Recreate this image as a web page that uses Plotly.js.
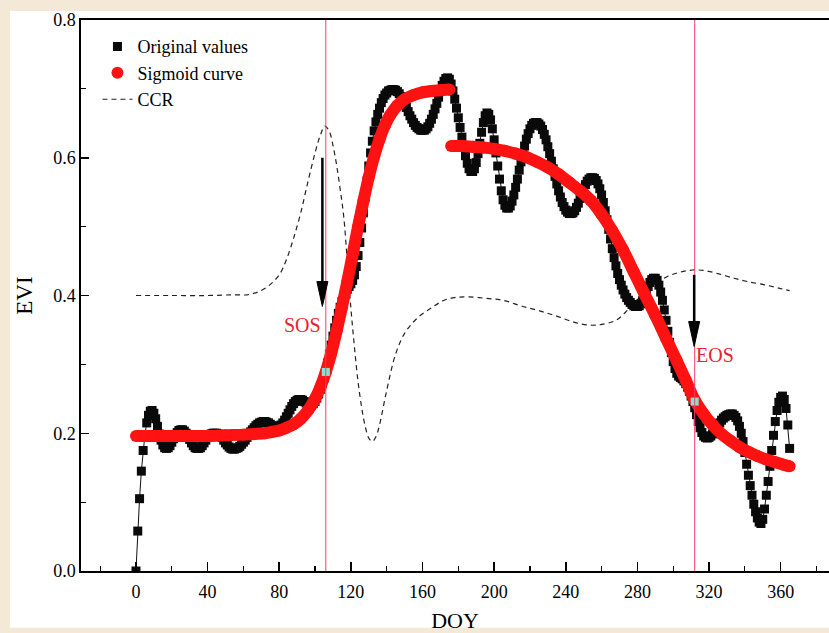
<!DOCTYPE html>
<html><head><meta charset="utf-8">
<script src="https://cdn.plot.ly/plotly-3.0.1.min.js"></script>
<style>html,body{margin:0;padding:0;background:#f3e9d6;}#chart{width:829px;height:633px;}</style>
</head><body><div id="chart"></div>
<script>
// Original EVI values, one per day starting at DOY 0
const startDoy = 0;
const origEvi = [
0.000,0.058,0.105,0.145,0.175,0.198,0.215,0.226,0.232,0.233,
0.229,0.221,0.210,0.199,0.190,0.183,0.179,0.178,0.179,0.182,
0.187,0.192,0.197,0.201,0.204,0.205,0.205,0.203,0.200,0.196,
0.191,0.186,0.182,0.179,0.178,0.178,0.179,0.182,0.186,0.190,
0.194,0.197,0.199,0.200,0.200,0.200,0.199,0.197,0.194,0.190,
0.186,0.183,0.180,0.178,0.177,0.177,0.178,0.179,0.181,0.184,
0.187,0.190,0.194,0.198,0.202,0.205,0.208,0.211,0.213,0.215,
0.216,0.217,0.217,0.216,0.215,0.213,0.211,0.210,0.209,0.209,
0.210,0.212,0.215,0.219,0.224,0.229,0.234,0.239,0.243,0.246,
0.248,0.249,0.249,0.248,0.246,0.244,0.242,0.241,0.241,0.243,
0.246,0.251,0.257,0.264,0.272,0.280,0.289,0.302,0.315,0.328,
0.341,0.353,0.364,0.374,0.383,0.391,0.398,0.404,0.409,0.413,
0.417,0.422,0.430,0.442,0.458,0.477,0.498,0.520,0.543,0.566,
0.588,0.607,0.624,0.639,0.652,0.663,0.672,0.680,0.686,0.691,
0.694,0.697,0.698,0.699,0.699,0.698,0.696,0.693,0.689,0.684,
0.679,0.673,0.667,0.661,0.656,0.651,0.647,0.644,0.642,0.640,
0.640,0.640,0.642,0.645,0.650,0.656,0.663,0.671,0.679,0.688,
0.697,0.705,0.711,0.715,0.716,0.714,0.707,0.697,0.685,0.672,
0.658,0.644,0.630,0.616,0.603,0.592,0.584,0.580,0.580,0.584,
0.593,0.606,0.621,0.637,0.651,0.661,0.665,0.663,0.655,0.642,
0.626,0.607,0.588,0.569,0.552,0.539,0.531,0.527,0.527,0.530,
0.537,0.546,0.557,0.569,0.582,0.594,0.606,0.617,0.627,0.635,
0.642,0.647,0.650,0.651,0.651,0.649,0.646,0.641,0.634,0.626,
0.616,0.606,0.595,0.584,0.573,0.562,0.552,0.543,0.535,0.529,
0.524,0.521,0.519,0.519,0.520,0.523,0.528,0.534,0.541,0.548,
0.555,0.561,0.566,0.569,0.571,0.571,0.570,0.567,0.562,0.555,
0.546,0.535,0.523,0.510,0.496,0.482,0.468,0.455,0.443,0.432,
0.423,0.415,0.408,0.402,0.397,0.393,0.390,0.387,0.385,0.384,
0.384,0.385,0.388,0.393,0.399,0.406,0.413,0.419,0.423,0.425,
0.425,0.422,0.415,0.405,0.393,0.379,0.364,0.348,0.332,0.317,
0.304,0.294,0.287,0.283,0.281,0.279,0.276,0.272,0.267,0.261,
0.254,0.246,0.237,0.227,0.217,0.208,0.201,0.196,0.194,0.193,
0.194,0.196,0.199,0.203,0.207,0.211,0.215,0.219,0.222,0.224,
0.226,0.227,0.228,0.228,0.226,0.223,0.218,0.210,0.200,0.188,
0.172,0.155,0.139,0.124,0.110,0.097,0.086,0.077,0.071,0.069,
0.075,0.090,0.110,0.130,0.152,0.175,0.197,0.217,0.233,0.245,
0.252,0.254,0.249,0.236,0.212,0.178
];
const origDoy = origEvi.map((_, i) => startDoy + i);

// Sigmoid fit, green-up segment
const sigUpDoy = [0,10,20,30,40,50,60,66,72,76,80,84,88,92,96,100,103,106,109,112,115,118,121,124,127,130,133,136,139,142,146,150,155,160,165,170,175];
const sigUpEvi = [0.196,0.196,0.196,0.196,0.196,0.197,0.198,0.199,0.200,0.202,0.204,0.208,0.213,0.221,0.233,0.250,0.267,0.289,0.316,0.348,0.383,0.420,0.460,0.500,0.537,0.572,0.602,0.627,0.647,0.662,0.676,0.685,0.691,0.695,0.697,0.698,0.699];
// Sigmoid fit, senescence segment
const sigDownDoy = [176,182,188,194,200,206,212,218,224,230,236,242,248,254,260,266,272,278,284,290,296,302,307,312,317,322,327,332,337,342,347,352,357,362,365];
const sigDownEvi = [0.617,0.617,0.616,0.615,0.613,0.610,0.606,0.601,0.594,0.586,0.576,0.564,0.552,0.538,0.518,0.494,0.466,0.434,0.402,0.371,0.338,0.305,0.277,0.248,0.228,0.212,0.199,0.189,0.180,0.173,0.167,0.162,0.158,0.154,0.152];

// CCR curve
const ccrDoy = [0,20,40,55,62,68,74,80,84,88,92,96,100,103,105.5,108,110,112,114,116,118,120,122,124,126,128,130,132,134,136,140,145,150,157,165,172,178,185,195,205,215,225,235,245,253,260,268,275,283,290,297,304,311,318,326,334,342,352,360,365];
const ccrVal = [0.400,0.400,0.400,0.401,0.401,0.405,0.414,0.430,0.452,0.483,0.520,0.565,0.607,0.633,0.646,0.638,0.618,0.590,0.555,0.515,0.450,0.382,0.325,0.275,0.238,0.210,0.193,0.188,0.195,0.212,0.262,0.315,0.345,0.367,0.382,0.393,0.397,0.398,0.396,0.393,0.385,0.378,0.370,0.361,0.357,0.358,0.364,0.380,0.402,0.417,0.428,0.434,0.437,0.436,0.431,0.425,0.420,0.415,0.410,0.407];

// Phenology dates
const phenoLabels = ["SOS", "EOS"];
const phenoDoy = [106, 312];
const phenoEvi = [0.289, 0.246];
const arrowTop = [0.60, 0.43];
const arrowTip = [0.384, 0.326];

const serif = "Liberation Serif, Times New Roman, serif";
const red = "#ff1212";
const lineRed = "#f0406a";

const traces = [
  {x: ccrDoy, y: ccrVal, mode: "lines", name: "CCR", legendrank: 3,
   line: {color: "#222", width: 1.2, dash: "5px,4px", shape: "spline"}},
  {x: origDoy, y: origEvi, mode: "lines", showlegend: false, hoverinfo: "skip",
   line: {color: "#111", width: 1}},
  {x: origDoy, y: origEvi, mode: "markers", name: "Original values", legendrank: 1,
   marker: {symbol: "square", size: 9, color: "#0a0a0a"}},
  {x: sigUpDoy, y: sigUpEvi, mode: "lines", showlegend: false, hoverinfo: "skip",
   line: {color: red, width: 12, shape: "spline"}},
  {x: sigDownDoy, y: sigDownEvi, mode: "lines", showlegend: false, hoverinfo: "skip",
   line: {color: red, width: 12, shape: "spline"}},
  {x: sigUpDoy.concat(sigDownDoy), y: sigUpEvi.concat(sigDownEvi), mode: "markers", name: "Sigmoid curve", legendrank: 2,
   marker: {symbol: "circle", size: 12, color: red}},
  {x: phenoDoy, y: phenoEvi, mode: "markers", showlegend: false,
   marker: {symbol: "square", size: 8, color: "#86e3d3"}}
];

const shapes = [
  {type: "rect", xref: "paper", yref: "paper", x0: -0.095, x1: 1.02, y0: -0.103, y1: 1.0165,
   fillcolor: "#ffffff", line: {width: 0}, layer: "below"}
];
const annotations = [];
phenoDoy.forEach((d, i) => {
  shapes.push({type: "line", xref: "x", yref: "paper", x0: d, x1: d, y0: 0, y1: 1,
               line: {color: lineRed, width: 1}, layer: "above"});
  const ax = d - 1.9 + (i === 1 ? 1.6 : 0);
  shapes.push({type: "line", xref: "x", yref: "y", x0: ax, x1: ax, y0: arrowTop[i], y1: arrowTip[i] + 0.03,
               line: {color: "#000", width: 2.5}, layer: "above"});
  shapes.push({type: "path", xref: "x", yref: "y", xsizemode: "pixel", ysizemode: "pixel",
               xanchor: ax, yanchor: arrowTip[i], path: "M0,0 L-5.5,25 L5.5,25 Z",
               fillcolor: "#000", line: {color: "#000", width: 1}, layer: "above"});
});
annotations.push({x: 104.4, y: 0.357, xref: "x", yref: "y", text: phenoLabels[0], showarrow: false,
  xanchor: "right", yanchor: "middle", font: {family: serif, size: 20, color: "#ee2030"}});
annotations.push({x: 311.8, y: 0.314, xref: "x", yref: "y", text: phenoLabels[1], showarrow: false,
  xanchor: "left", yanchor: "middle", font: {family: serif, size: 20, color: "#ee2030"}});

const layout = {
  width: 829, height: 633,
  margin: {l: 81, r: 0, t: 20, b: 62},
  paper_bgcolor: "#f3e9d6", plot_bgcolor: "#ffffff",
  font: {family: serif, size: 18, color: "#000"},
  showlegend: true,
  legend: {x: 0.022, y: 0.985, xanchor: "left", yanchor: "top", bgcolor: "rgba(0,0,0,0)",
           font: {family: serif, size: 18, color: "#000"}},
  xaxis: {range: [-30.7, 387], tick0: 0, dtick: 40, ticks: "inside", ticklen: 9, tickwidth: 1.5,
          tickcolor: "#000", showline: true, linecolor: "#000", linewidth: 1.6, mirror: true,
          showgrid: false, zeroline: false, ticklabelstandoff: 4,
          minor: {tick0: 0, dtick: 20, ticks: "inside", ticklen: 5, tickwidth: 1.2, tickcolor: "#000"},
          title: {text: "DOY", font: {family: serif, size: 22}, standoff: 12}},
  yaxis: {range: [0, 0.8], tick0: 0, dtick: 0.2, tickformat: ".1f", ticks: "inside", ticklen: 8, tickwidth: 1.5,
          tickcolor: "#000", showline: true, linecolor: "#000", linewidth: 1.6, mirror: false,
          showgrid: false, zeroline: false,
          minor: {tick0: 0, dtick: 0.1, ticks: "inside", ticklen: 5, tickwidth: 1.2, tickcolor: "#000"},
          title: {text: "EVI", font: {family: serif, size: 23}, standoff: 14}},
  shapes: shapes,
  annotations: annotations
};

Plotly.newPlot("chart", traces, layout, {displayModeBar: false, staticPlot: true});
</script>
</body></html>
